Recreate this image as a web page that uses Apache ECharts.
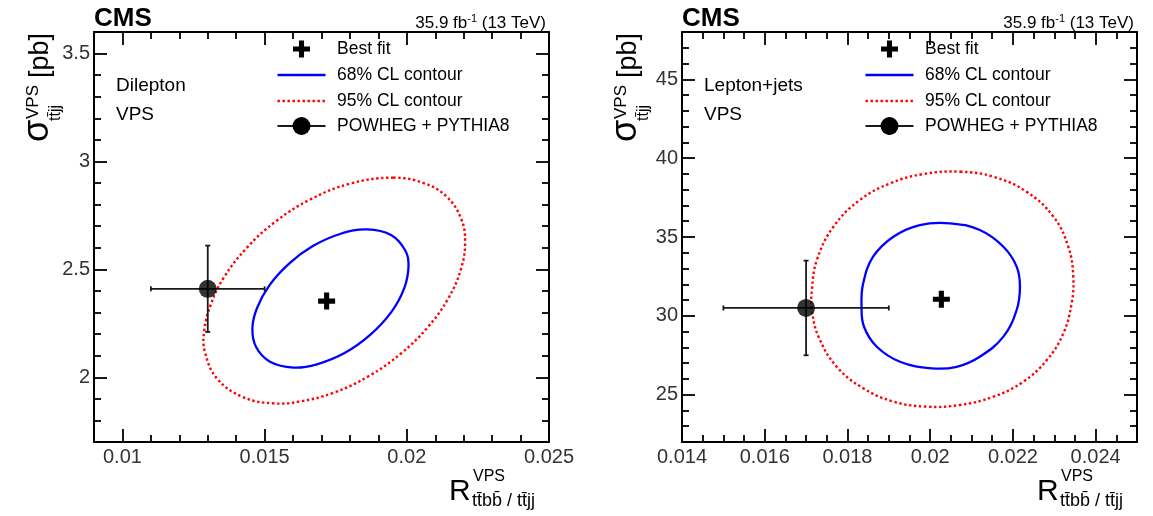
<!DOCTYPE html>
<html><head><meta charset="utf-8">
<script src="https://cdn.jsdelivr.net/npm/echarts@6/dist/echarts.min.js"></script>
<style>html,body{margin:0;padding:0;background:#fff}#c{width:1153px;height:516px}</style>
</head><body><div id="c"></div>
<script>
const FONT = '"Liberation Sans", Arial, Helvetica, sans-serif';

// ---------- Dilepton panel ----------
const dilXRange = [0.009, 0.025];
const dilYRange = [1.7, 3.6];
const dilXMajor = [0.01, 0.015, 0.02, 0.025];
const dilXMinor = [0.011, 0.012, 0.013, 0.014, 0.016, 0.017, 0.018, 0.019, 0.021, 0.022, 0.023, 0.024];
const dilYMajor = [2, 2.5, 3, 3.5];
const dilYMinor = [1.8, 1.9, 2.1, 2.2, 2.3, 2.4, 2.6, 2.7, 2.8, 2.9, 3.1, 3.2, 3.3, 3.4];
const dilBestFit = [0.01718, 2.353];
const dilPowheg = [0.0130, 2.41];
const dilPowhegErr = [0.0110, 0.0150, 2.21, 2.61]; // xlo, xhi, ylo, yhi
const dilContour68 = [
  [0.01860, 2.685], [0.01946, 2.658], [0.01996, 2.584], [0.02006, 2.513], [0.01991, 2.413],
  [0.01946, 2.303], [0.01871, 2.196], [0.01781, 2.112], [0.01684, 2.060], [0.01601, 2.045],
  [0.01519, 2.072], [0.01470, 2.140], [0.01457, 2.227], [0.01473, 2.320], [0.01518, 2.428],
  [0.01588, 2.529], [0.01671, 2.609], [0.01765, 2.664]
];
const dilContour95 = [
  [0.01952, 2.925], [0.02059, 2.900], [0.02140, 2.837], [0.02191, 2.735], [0.02205, 2.628],
  [0.02191, 2.504], [0.02146, 2.366], [0.02073, 2.231], [0.01981, 2.112], [0.01867, 2.006],
  [0.01742, 1.928], [0.01625, 1.888], [0.01531, 1.879], [0.01424, 1.908], [0.01332, 1.995],
  [0.01290, 2.118], [0.01287, 2.211], [0.01310, 2.335], [0.01355, 2.459], [0.01436, 2.598],
  [0.01541, 2.724], [0.01659, 2.823], [0.01800, 2.897]
];

// ---------- Lepton+jets panel ----------
const ljXRange = [0.014, 0.025];
const ljYRange = [22, 48];
const ljXMajor = [0.014, 0.016, 0.018, 0.02, 0.022, 0.024];
const ljXMinor = [0.0145, 0.015, 0.0155, 0.0165, 0.017, 0.0175, 0.0185, 0.019, 0.0195,
                  0.0205, 0.021, 0.0215, 0.0225, 0.023, 0.0235, 0.0245];
const ljYMajor = [25, 30, 35, 40, 45];
const ljYMinor = [23, 24, 26, 27, 28, 29, 31, 32, 33, 34, 36, 37, 38, 39, 41, 42, 43, 44, 46, 47];
const ljBestFit = [0.02027, 31.05];
const ljPowheg = [0.0170, 30.5];
const ljPowhegErr = [0.0150, 0.0190, 27.5, 33.5];
const ljContour68 = [
  [0.02048, 35.87], [0.02120, 35.44], [0.02177, 34.38], [0.02209, 33.12], [0.02217, 31.85],
  [0.02209, 30.37], [0.02177, 28.68], [0.02120, 27.41], [0.02064, 26.77], [0.02004, 26.67],
  [0.01927, 27.09], [0.01871, 28.04], [0.01840, 29.31], [0.01834, 30.58], [0.01838, 32.06],
  [0.01862, 33.75], [0.01911, 35.02], [0.01975, 35.76]
];
const ljContour95 = [
  [0.02072, 39.14], [0.02153, 38.82], [0.02233, 37.87], [0.02298, 36.29], [0.02334, 34.38],
  [0.02346, 32.48], [0.02342, 30.80], [0.02322, 28.89], [0.02282, 27.20], [0.02225, 25.82],
  [0.02153, 24.87], [0.02072, 24.35], [0.01992, 24.24], [0.01911, 24.56], [0.01838, 25.41],
  [0.01774, 26.77], [0.01730, 28.68], [0.01714, 30.37], [0.01714, 31.64], [0.01726, 33.54],
  [0.01766, 35.65], [0.01830, 37.35], [0.01903, 38.40], [0.01983, 38.99]
];

const panelTexts = ['Dilepton', 'Lepton+jets'];
const legendTexts = ['Best fit', '68% CL contour', '95% CL contour', 'POWHEG + PYTHIA8'];

// ---------- layout ----------
const GRID_TOP = 32, GRID_H = 410, GRID_W = 455;
const GRID_LEFT = [94, 682];
const CROSS = 'path://M3.5,0H6.5V3.5H10V6.5H6.5V10H3.5V6.5H0V3.5H3.5Z';

function fmt(v) { return String(+v.toFixed(5)); }

function axisSet(dim, gridIndex, range, major, minor) {
  const pos = dim === 'x' ? ['bottom', 'top'] : ['left', 'right'];
  const out = [];
  pos.forEach((p, k) => {
    out.push({
      type: 'value', gridIndex, position: p, min: range[0], max: range[1],
      axisLine: { show: true, onZero: false, lineStyle: { color: '#000', width: 2 } },
      axisTick: { show: true, inside: true, length: 13, customValues: major, lineStyle: { color: '#000', width: 1.8 } },
      axisLabel: { show: k === 0, customValues: major, margin: dim === 'x' ? 5 : 4, color: '#333',
                   fontSize: 20, fontFamily: FONT, formatter: fmt },
      splitLine: { show: false }, minorTick: { show: false }, minorSplitLine: { show: false }
    });
    out.push({
      type: 'value', gridIndex, position: p, min: range[0], max: range[1],
      axisLine: { show: false, onZero: false },
      axisTick: { show: true, inside: true, length: 7, customValues: minor, lineStyle: { color: '#000', width: 1.8 } },
      axisLabel: { show: false },
      splitLine: { show: false }, minorTick: { show: false }
    });
  });
  return out;
}

// closed smooth contour drawn through all data points of the series
function contourRenderer(color, width, dash) {
  return function (params, api) {
    if (params.dataIndexInside !== 0) return null;
    const pts = [];
    for (let i = 0; i < params.dataInsideLength; i++) {
      pts.push(api.coord([api.value(0, i), api.value(1, i)]));
    }
    return { type: 'polygon', shape: { points: pts, smooth: 0.4 },
             style: { fill: 'none', stroke: color, lineWidth: width, lineDash: dash || null } };
  };
}

function errorBarItem(params, api) {
  const x = api.value(0), y = api.value(1);
  const a = api.coord([api.value(2), y]), b = api.coord([api.value(3), y]);
  const c = api.coord([x, api.value(4)]), d = api.coord([x, api.value(5)]);
  const st = { stroke: '#1a1a1a', lineWidth: 1.8, fill: null };
  const cap = 2.5;
  return { type: 'group', children: [
    { type: 'line', shape: { x1: a[0], y1: a[1], x2: b[0], y2: b[1] }, style: st },
    { type: 'line', shape: { x1: c[0], y1: c[1], x2: d[0], y2: d[1] }, style: st },
    { type: 'line', shape: { x1: a[0], y1: a[1] - cap, x2: a[0], y2: a[1] + cap }, style: st },
    { type: 'line', shape: { x1: b[0], y1: b[1] - cap, x2: b[0], y2: b[1] + cap }, style: st },
    { type: 'line', shape: { x1: c[0] - cap, y1: c[1], x2: c[0] + cap, y2: c[1] }, style: st },
    { type: 'line', shape: { x1: d[0] - cap, y1: d[1], x2: d[0] + cap, y2: d[1] }, style: st }
  ]};
}

function panelSeries(ai, c68, c95, best, pw, pwErr) {
  return [
    { type: 'custom', xAxisIndex: ai, yAxisIndex: ai, data: c95, silent: true, z: 2,
      renderItem: contourRenderer('#ff0000', 2.4, [2.4, 2.6]) },
    { type: 'custom', xAxisIndex: ai, yAxisIndex: ai, data: c68, silent: true, z: 2,
      renderItem: contourRenderer('#0000ff', 2.3) },
    { type: 'custom', xAxisIndex: ai, yAxisIndex: ai, renderItem: errorBarItem,
      data: [[pw[0], pw[1], pwErr[0], pwErr[1], pwErr[2], pwErr[3]]], z: 3, silent: true },
    { type: 'scatter', xAxisIndex: ai, yAxisIndex: ai, data: [pw], symbol: 'circle', symbolSize: 18,
      itemStyle: { color: '#000' }, z: 4, silent: true },
    { type: 'scatter', xAxisIndex: ai, yAxisIndex: ai, data: [best], symbol: CROSS, symbolSize: 17,
      itemStyle: { color: '#000', opacity: 1 }, z: 5, silent: true }
  ];
}

function crossPoints(cx, cy, s) {
  const h = s / 2, t = s * 0.15;
  return [[cx - t, cy - h], [cx + t, cy - h], [cx + t, cy - t], [cx + h, cy - t], [cx + h, cy + t],
          [cx + t, cy + t], [cx + t, cy + h], [cx - t, cy + h], [cx - t, cy + t], [cx - h, cy + t],
          [cx - h, cy - t], [cx - t, cy - t]];
}

function panelGraphics(p) {
  const L = GRID_LEFT[p], R = L + GRID_W;
  const g = [];
  const txt = (x, y, text, size, extra) => ({ type: 'text', x, y,
    style: Object.assign({ text, fontSize: size, fontFamily: FONT, fill: '#000', align: 'left', verticalAlign: 'middle' }, extra || {}) });
  // header
  g.push(txt(L, 19, 'CMS', 26, { fontWeight: 'bold' }));
  g.push({ type: 'text', x: R - 3, y: 23, style: {
    text: '{a|35.9 fb}{s|-1}{a| (13 TeV)}', align: 'right', verticalAlign: 'middle', fill: '#000',
    rich: { a: { fontSize: 17, fontFamily: FONT, lineHeight: 19, fill: '#000' },
            s: { fontSize: 11, fontFamily: FONT, verticalAlign: 'top', lineHeight: 19, fill: '#000' } } } });
  // panel annotation
  g.push(txt(L + 22, 86, panelTexts[p], 19));
  g.push(txt(L + 22, 115, 'VPS', 19));
  // legend
  const mx = L + 207.5, lx0 = L + 183.5, lx1 = L + 231.5, tx = L + 243;
  const rows = [49, 75, 101, 126];
  g.push({ type: 'polygon', shape: { points: crossPoints(mx, rows[0], 17) }, style: { fill: '#000' } });
  g.push({ type: 'line', shape: { x1: lx0, y1: rows[1], x2: lx1, y2: rows[1] }, style: { stroke: '#0000ff', lineWidth: 2.3 } });
  g.push({ type: 'line', shape: { x1: lx0, y1: rows[2], x2: lx1, y2: rows[2] }, style: { stroke: '#ff0000', lineWidth: 2.4, lineDash: [2.4, 2.6] } });
  g.push({ type: 'line', shape: { x1: lx0, y1: rows[3], x2: lx1, y2: rows[3] }, style: { stroke: '#1a1a1a', lineWidth: 1.8 } });
  g.push({ type: 'line', shape: { x1: mx, y1: rows[3] - 9, x2: mx, y2: rows[3] + 9 }, style: { stroke: '#1a1a1a', lineWidth: 1.8 } });
  g.push({ type: 'circle', shape: { cx: mx, cy: rows[3], r: 9 }, style: { fill: '#000' } });
  legendTexts.forEach((t, i) => g.push(txt(tx, rows[i], t, 17.5)));
  // y-axis title (rotated)
  const yo = L - 94;
  const rot = (x, y, text, size) => ({ type: 'text', x: x + yo, y, rotation: Math.PI / 2,
    style: { text, fontSize: size, fontFamily: FONT, fill: '#000', align: 'left', verticalAlign: 'middle' } });
  g.push(rot(38, 142, 'σ', 36));
  g.push(rot(33, 119, 'VPS', 17));
  g.push(rot(56, 121, 'tt\u0304jj', 16));
  g.push(rot(41, 78, '[pb]', 27));
  // x-axis title
  const xo = L - 94;
  g.push(txt(449 + xo, 492, 'R', 30));
  g.push(txt(473 + xo, 476.5, 'VPS', 16));
  g.push(txt(472 + xo, 501, 'tt\u0304bb\u0304 / tt\u0304jj', 18));
  return g;
}

const option = {
  animation: false,
  backgroundColor: '#fff',
  textStyle: { fontFamily: FONT },
  grid: [0, 1].map(i => ({ left: GRID_LEFT[i], top: GRID_TOP, width: GRID_W, height: GRID_H,
                          containLabel: false, outerBoundsMode: 'none' })),
  xAxis: [].concat(axisSet('x', 0, dilXRange, dilXMajor, dilXMinor), axisSet('x', 1, ljXRange, ljXMajor, ljXMinor)),
  yAxis: [].concat(axisSet('y', 0, dilYRange, dilYMajor, dilYMinor), axisSet('y', 1, ljYRange, ljYMajor, ljYMinor)),
  series: [].concat(
    panelSeries(0, dilContour68, dilContour95, dilBestFit, dilPowheg, dilPowhegErr),
    panelSeries(4, ljContour68, ljContour95, ljBestFit, ljPowheg, ljPowhegErr)
  ),
  graphic: [].concat(panelGraphics(0), panelGraphics(1))
};

const chart = echarts.init(document.getElementById('c'), null, { renderer: 'canvas' });
chart.setOption(option);
</script></body></html>
